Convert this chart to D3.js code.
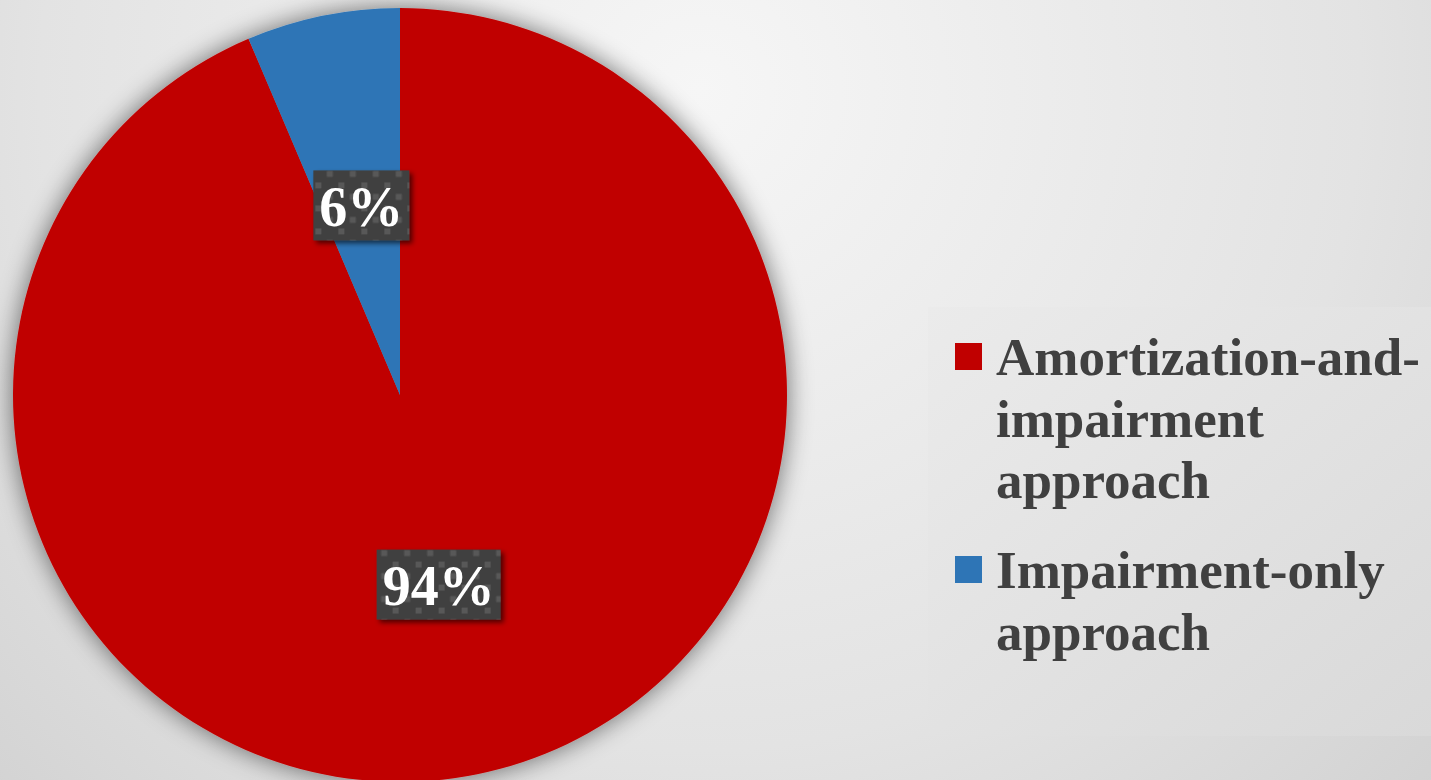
<!DOCTYPE html>
<html><head><meta charset="utf-8">
<script src="https://cdn.jsdelivr.net/npm/d3@7/dist/d3.min.js"></script>
<style>html,body{margin:0;padding:0;overflow:hidden;}svg{display:block;}</style>
</head><body>
<script>
const categories = ["Amortization-and-impairment approach", "Impairment-only approach"];
const legendLines = [["Amortization-and-", "impairment", "approach"], ["Impairment-only", "approach"]];
const values = [93.6, 6.4];
const colors = ["#C00000", "#2E75B6"];

const W = 1431, H = 780;
const svg = d3.select("body").append("svg").attr("width", W).attr("height", H);
const defs = svg.append("defs");

const bg = defs.append("radialGradient").attr("id", "bg")
  .attr("gradientUnits", "userSpaceOnUse").attr("cx", 700).attr("cy", 90).attr("r", 1100);
bg.append("stop").attr("offset", "0").attr("stop-color", "#f6f6f6");
bg.append("stop").attr("offset", "0.6").attr("stop-color", "#e3e3e3");
bg.append("stop").attr("offset", "1").attr("stop-color", "#cecece");
svg.append("rect").attr("width", W).attr("height", H).attr("fill", "url(#bg)");

const sh = defs.append("filter").attr("id", "pieShadow").attr("x", "-20%").attr("y", "-20%").attr("width", "140%").attr("height", "140%");
sh.append("feGaussianBlur").attr("in", "SourceAlpha").attr("stdDeviation", 13).attr("result", "b");
sh.append("feComponentTransfer").attr("in", "b").attr("result", "b2")
  .append("feFuncA").attr("type", "linear").attr("slope", 0.55);
const m1 = sh.append("feMerge");
m1.append("feMergeNode").attr("in", "b2");
m1.append("feMergeNode").attr("in", "SourceGraphic");

const ls = defs.append("filter").attr("id", "lblShadow").attr("x", "-20%").attr("y", "-20%").attr("width", "150%").attr("height", "150%");
ls.append("feGaussianBlur").attr("in", "SourceAlpha").attr("stdDeviation", 2.5).attr("result", "b");
ls.append("feOffset").attr("in", "b").attr("dx", 3).attr("dy", 3).attr("result", "o");
ls.append("feComponentTransfer").attr("in", "o").attr("result", "o2")
  .append("feFuncA").attr("type", "linear").attr("slope", 0.6);
const m2 = ls.append("feMerge");
m2.append("feMergeNode").attr("in", "o2");
m2.append("feMergeNode").attr("in", "SourceGraphic");

const pat = defs.append("pattern").attr("id", "dots").attr("patternUnits", "userSpaceOnUse")
  .attr("width", 23).attr("height", 23);
pat.append("rect").attr("width", 23).attr("height", 23).attr("fill", "#404040");
pat.append("rect").attr("x", 0).attr("y", 0).attr("width", 6).attr("height", 6).attr("fill", "#585858");
pat.append("rect").attr("x", 11.5).attr("y", 11.5).attr("width", 6).attr("height", 6).attr("fill", "#585858");

const lg = defs.append("linearGradient").attr("id", "legBg").attr("x1", 0).attr("y1", 0).attr("x2", 1).attr("y2", 1);
lg.append("stop").attr("offset", 0).attr("stop-color", "#ebebeb");
lg.append("stop").attr("offset", 1).attr("stop-color", "#d9d9d9");

const cx = 400, cy = 395, R = 387;
const pie = d3.pie().sort(null).value(d => d)(values);
const arc = d3.arc().innerRadius(0).outerRadius(R);
const labelArc = d3.arc().innerRadius(R * 0.5).outerRadius(R * 0.5);

const g = svg.append("g").attr("transform", `translate(${cx},${cy})`);
g.append("g").attr("filter", "url(#pieShadow)").selectAll("path").data(pie).join("path")
  .attr("d", arc).attr("fill", (d, i) => colors[i]);

const fmt = d3.format(".0%");
const total = d3.sum(values);
const lab = g.selectAll("g.lbl").data(pie).join("g").attr("class", "lbl")
  .attr("transform", d => `translate(${labelArc.centroid(d)})`);
lab.each(function(d) {
  const s = d3.select(this);
  const t = s.append("text").text(fmt(d.data / total))
    .attr("text-anchor", "middle").attr("dy", "0.36em")
    .attr("font-family", "Liberation Serif, Times New Roman, serif")
    .attr("font-weight", "bold").attr("font-size", 56).attr("fill", "#ffffff");
  const bb = t.node().getBBox();
  const padX = 6, bh = 70;
  s.insert("rect", "text").attr("x", bb.x - padX).attr("y", -bh / 2)
    .attr("width", bb.width + 2 * padX).attr("height", bh)
    .attr("fill", "url(#dots)").attr("filter", "url(#lblShadow)");
});

// legend
const L = svg.append("g");
L.append("rect").attr("x", 928).attr("y", 307).attr("width", W - 928).attr("height", 429).attr("fill", "url(#legBg)");
const lineH = 61.5;
const legTop = [375, 588];
legendLines.forEach((lines, i) => {
  L.append("rect").attr("x", 955).attr("y", legTop[i] - 32).attr("width", 27).attr("height", 27).attr("fill", colors[i]);
  const t = L.append("text").attr("x", 996).attr("y", legTop[i])
    .attr("font-family", "Liberation Serif, Times New Roman, serif")
    .attr("font-weight", "bold").attr("font-size", 53).attr("fill", "#404040");
  lines.forEach((ln, j) => t.append("tspan").attr("x", 996).attr("y", legTop[i] + j * lineH).text(ln));
  t.append("title").text(categories[i]);
});
</script>
</body></html>
